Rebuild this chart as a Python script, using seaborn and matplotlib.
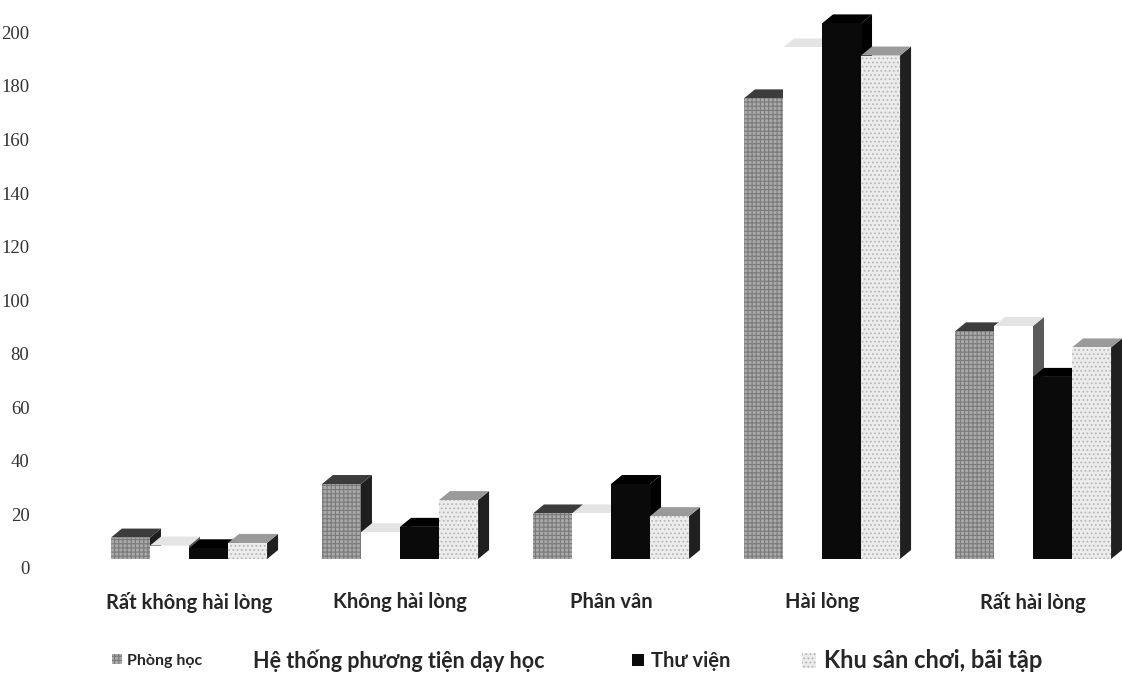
import numpy as np
import pandas as pd
import seaborn as sns
import matplotlib.pyplot as plt
from matplotlib.patches import Polygon, Patch

# values
muc_do = ["Rất không hài lòng", "Không hài lòng", "Phân vân", "Hài lòng", "Rất hài lòng"]
nhom = ["Phòng học", "Hệ thống phương tiện dạy học", "Thư viện", "Khu sân chơi, bãi tập"]
phong_hoc = [8, 28, 17, 172, 85]
phuong_tien = [5, 10, 17, 191, 87]
thu_vien = [4, 12, 28, 200, 68]
san_choi = [6, 22, 16, 188, 79]
yticks = list(range(0, 201, 20))

front = ["#a9a9a9", "#ffffff", "#0a0a0a", "#ececec"]
top_c = ["#3c3c3c", "#e4e4e4", "#000000", "#9a9a9a"]
side_c = ["#1e1e1e", "#5a5a5a", "#000000", "#202020"]
hatches = ["++++", None, None, "...."]
hatch_c = ["#7a7a7a", "#ffffff", "#000000", "#b8b8b8"]

df = pd.DataFrame({
    "muc_do": muc_do * 4,
    "nhom": np.repeat(nhom, 5),
    "so_luong": phong_hoc + phuong_tien + thu_vien + san_choi,
})

sns.set_theme(style="white")
plt.rcParams["font.family"] = ["Lato", "DejaVu Sans"]
plt.rcParams["hatch.linewidth"] = 0.8

W, H = 1122, 683
fig = plt.figure(figsize=(W / 100, H / 100), dpi=100)
floor, ax_t = 559, 10
px_y = (floor - ax_t) / 205
off = 9 / px_y  # value labels sit a little below the bar floor, as in the scan
ax_l, ax_r, ax_b = 60, 1122, floor + 11
ax = fig.add_axes([ax_l / W, 1 - ax_b / H, (ax_r - ax_l) / W, (ax_b - ax_t) / H])

sns.barplot(data=df, x="muc_do", y="so_luong", hue="nhom", order=muc_do, hue_order=nhom,
            palette=front, width=0.74, gap=0, saturation=1, linewidth=0, legend=False, ax=ax)

xlo = -(189 - ax_l) / 211
ax.set_xlim(xlo, xlo + (ax_r - ax_l) / 211)
ax.set_ylim(-11 / px_y, 205)

# fake 3D depth: side and top faces offset by a few pixels
px_x = (ax_r - ax_l) / (ax.get_xlim()[1] - ax.get_xlim()[0])
dx, dy = 11 / px_x, 9 / px_y

for h, cont in enumerate(ax.containers):
    for bar in cont:
        x, w, top = bar.get_x(), bar.get_width(), bar.get_height()
        bar.set_zorder(3 + 2 * h + 1)
        if hatches[h]:
            bar.set_hatch(hatches[h])
            bar.set_edgecolor(hatch_c[h])
        side = Polygon([(x + w, 0), (x + w + dx, dy), (x + w + dx, top + dy), (x + w, top)],
                       closed=True, facecolor=side_c[h], edgecolor="none", zorder=3 + 2 * h)
        cap = Polygon([(x, top), (x + w, top), (x + w + dx, top + dy), (x + dx, top + dy)],
                      closed=True, facecolor=top_c[h], edgecolor="none", zorder=3 + 2 * h)
        ax.add_patch(side)
        ax.add_patch(cap)

ax.set_yticks([])
sec = ax.secondary_yaxis("left", functions=(lambda y: y + off, lambda s: s - off))
sec.set_yticks(yticks)
sec.set_yticklabels([str(t) for t in yticks], family=["Liberation Serif", "DejaVu Serif"],
                    fontsize=13.5, color="#333333")
sec.tick_params(axis="y", length=0, pad=22)
sec.spines["left"].set_visible(False)

ax.tick_params(axis="x", length=0, pad=16)
for lbl in ax.get_xticklabels():
    lbl.set_fontweight("bold")
    lbl.set_fontsize(14.5)
ax.set_xlabel("")
ax.set_ylabel("")
sns.despine(ax=ax, left=True, bottom=True)

# legend entries placed one by one to follow the scan's uneven spacing
handles = [Patch(facecolor=front[i], edgecolor=hatch_c[i], hatch=hatches[i], linewidth=0) for i in range(4)]
leg_x = [104, 222, 622, 790]
leg_size = [11.5, 15.5, 14.5, 17]
for i in range(4):
    fig.legend([handles[i]], [nhom[i]], loc="center left", bbox_to_anchor=(leg_x[i] / W, 1 - 661 / H),
               frameon=False, handlelength=0.6, handleheight=0.6, handletextpad=0.35, borderpad=0,
               prop={"weight": "bold", "size": leg_size[i],
                     "family": ["Liberation Sans Narrow", "Lato", "DejaVu Sans"]})

fig.savefig("out.png", dpi=100, facecolor="white")
